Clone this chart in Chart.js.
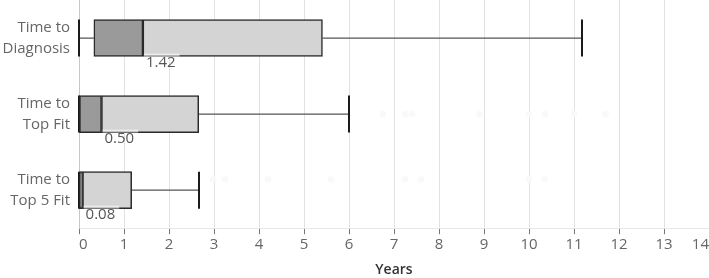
<!DOCTYPE html>
<html>
<head>
<meta charset="utf-8">
<script src="https://cdn.jsdelivr.net/npm/chart.js@4"></script>
<style>
  body { margin: 0; background: #fff; }
  #wrap { width: 709px; height: 278px; }
</style>
</head>
<body>
<div id="wrap"><canvas id="boxChart" width="709" height="278"></canvas></div>
<script>
// box plot values (years)
const categories = [['Time to', 'Diagnosis'], ['Time to', 'Top Fit'], ['Time to', 'Top 5 Fit']];
const mins    = [0, 0, 0];
const q1s     = [0.33, 0, 0];
const medians = [1.42, 0.50, 0.08];
const q3s     = [5.41, 2.66, 1.17];
const maxs    = [11.17, 6.0, 2.67];
const medianLabels = ['1.42', '0.50', '0.08'];
// faint outlier marks
const outlierX   = [6.75, 7.25, 7.4, 8.9, 10.0, 10.35, 11.0, 11.7, 2.98, 3.25, 4.2, 5.6, 7.25, 7.6, 10.0, 10.35];
const outlierRow = [1, 1, 1, 1, 1, 1, 1, 1, 2, 2, 2, 2, 2, 2, 2, 2];
const xTicks = [0, 1, 2, 3, 4, 5, 6, 7, 8, 9, 10, 11, 12, 13, 14];

const BOX_H = 37;
const FONT = "'Open Sans', sans-serif";

// whiskers + median labels, drawn through the chart scales
const boxExtras = {
    id: 'boxExtras',
    beforeDatasetsDraw(chart) {
        const ctx = chart.ctx;
        const xs = chart.scales.x, ys = chart.scales.y;
        ctx.save();
        for (let i = 0; i < categories.length; i++) {
            const yc = ys.getPixelForValue(i);
            ctx.strokeStyle = '#555';
            ctx.lineWidth = 1.2;
            ctx.beginPath();
            ctx.moveTo(xs.getPixelForValue(mins[i]), yc);
            ctx.lineTo(xs.getPixelForValue(q1s[i]), yc);
            ctx.moveTo(xs.getPixelForValue(q3s[i]), yc);
            ctx.lineTo(xs.getPixelForValue(maxs[i]), yc);
            ctx.stroke();
            ctx.strokeStyle = '#1a1a1a';
            ctx.lineWidth = 2;
            ctx.beginPath();
            [mins[i], maxs[i]].forEach(v => {
                const x = Math.round(xs.getPixelForValue(v));
                ctx.moveTo(x, yc - BOX_H / 2);
                ctx.lineTo(x, yc + BOX_H / 2);
            });
            ctx.stroke();
        }
        ctx.restore();
    },
    afterDatasetsDraw(chart) {
        const ctx = chart.ctx;
        const xs = chart.scales.x, ys = chart.scales.y;
        ctx.save();
        ctx.font = '15px ' + FONT;
        ctx.textBaseline = 'top';
        ctx.textAlign = 'left';
        for (let i = 0; i < categories.length; i++) {
            const yc = ys.getPixelForValue(i);
            const x = xs.getPixelForValue(medians[i]) + 1;
            const w = ctx.measureText(medianLabels[i]).width + 6;
            ctx.fillStyle = 'rgba(255,255,255,0.55)';
            ctx.fillRect(x, yc + BOX_H / 2 - 3, w, 3);
            ctx.fillStyle = '#555';
            ctx.fillText(medianLabels[i], x + 2, yc + BOX_H / 2 - 1);
        }
        ctx.restore();
    }
};

new Chart(document.getElementById('boxChart'), {
    type: 'bar',
    data: {
        labels: categories,
        datasets: [{
            label: 'Lower',
            data: q1s.map((v, i) => [v, medians[i]]),
            backgroundColor: '#9a9a9a',
            borderColor: '#2a2a2a',
            borderWidth: 1.5,
            borderSkipped: false,
            barThickness: BOX_H,
            grouped: false,
            order: 1
        }, {
            label: 'Upper',
            data: medians.map((v, i) => [v, q3s[i]]),
            backgroundColor: '#d4d4d4',
            borderColor: '#2a2a2a',
            borderWidth: 1.5,
            borderSkipped: false,
            barThickness: BOX_H,
            grouped: false,
            order: 1
        }, {
            type: 'scatter',
            label: 'Outliers',
            data: outlierX.map((v, i) => ({ x: v, y: outlierRow[i] })),
            yAxisID: 'yOut',
            backgroundColor: '#f9f9f9',
            borderColor: '#f9f9f9',
            pointRadius: 3,
            order: 2
        }]
    },
    options: {
        indexAxis: 'y',
        responsive: false,
        animation: false,
        layout: { padding: 0, autoPadding: false },
        plugins: { legend: { display: false }, tooltip: { enabled: false } },
        scales: {
            x: {
                type: 'linear',
                min: 0,
                max: 14,
                afterBuildTicks: scale => { scale.ticks = xTicks.map(v => ({ value: v })); },
                afterFit: scale => { scale.paddingLeft = 0; scale.paddingRight = 0; },
                grid: { color: '#e2e2e2', tickColor: '#777', tickLength: 6 },
                border: { color: '#e8e8e8' },
                ticks: {
                    color: '#666',
                    align: 'inner',
                    padding: 2,
                    font: { family: FONT, size: 15 }
                },
                title: {
                    display: true,
                    text: 'Years',
                    color: '#333',
                    font: { family: FONT, size: 14, weight: '600' },
                    padding: { top: 5, bottom: 0 }
                }
            },
            y: {
                type: 'category',
                afterFit: scale => {
                    scale.width = 79;
                    scale.paddingTop = 0;
                    scale.paddingBottom = 0;
                },
                grid: { display: false, drawTicks: false },
                border: { display: true, color: '#c8c8c8', dash: [1, 2] },
                ticks: {
                    color: '#666',
                    padding: 9,
                    font: { family: FONT, size: 15, lineHeight: 1.4 }
                }
            },
            yOut: {
                type: 'linear',
                display: false,
                min: -0.5,
                max: 2.5,
                reverse: true,
                afterFit: scale => { scale.paddingTop = 0; scale.paddingBottom = 0; }
            }
        }
    },
    plugins: [boxExtras]
});
</script>
</body>
</html>
